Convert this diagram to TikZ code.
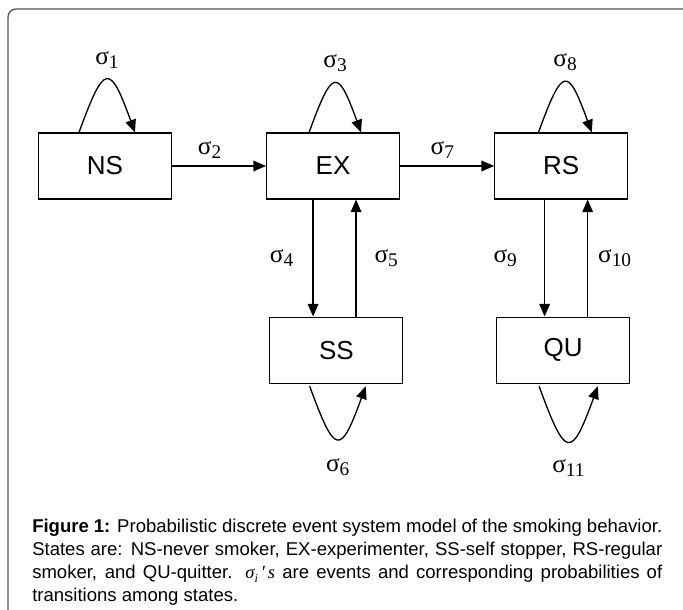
\documentclass[tikz,border=0pt]{standalone}
\usepackage{fontspec}
\setmainfont{Liberation Sans}
\newfontfamily\timesfont{Liberation Serif}
\usepackage{tikz}
\usetikzlibrary{positioning,arrows.meta}
\definecolor{framegray}{HTML}{555555}

\newcommand{\evt}[1]{{\timesfont\fontsize{19pt}{19pt}\selectfont σ\raisebox{-3pt}{\fontsize{14.5pt}{14.5pt}\selectfont #1}}}

\begin{document}
\begin{tikzpicture}[
x=0.75pt,
y=0.75pt,
node distance=87.75pt and 70.5pt,
state/.style={
draw=black,
line width=0.8pt,
minimum width=99.75pt,
minimum height=49.5pt,
font=\fontsize{19.5pt}{19.5pt}\selectfont
},
arrow/.style={
-{Triangle[length=9.5pt,width=8pt]},
line width=1pt
},
caption/.style={
text width=472.5pt,
align=justify,
inner sep=0pt,
font=\fontsize{13.9pt}{17.25pt}\selectfont
}
]

\clip (0,0) rectangle (683,610);

% outer frame, runs off the right and bottom edge
\draw[framegray, line width=1pt, rounded corners=6pt] (8,-20) |- (700,601);

\node[state] (ns) at (105,444) {NS};

\node[state, right=of ns] (ex) {EX};

\node[state, right=of ex] (rs) {RS};

\node[state, below=of ex, xshift=2.5pt] (ss) {SS};

\node[state, below=of rs, xshift=1.5pt] (qu) {QU};

% self loops
\draw[arrow] ([xshift=-19.5pt]ns.north)
to[out=70,in=110,looseness=3.4]
node[above=5pt] {\evt{1}}
([xshift=22.5pt]ns.north);

\draw[arrow] ([xshift=-18pt]ex.north)
to[out=70,in=110,looseness=3.4]
node[above=5pt] {\evt{3}}
([xshift=21pt]ex.north);

\draw[arrow] ([xshift=-17pt]rs.north)
to[out=70,in=110,looseness=3.4]
node[above=5pt] {\evt{8}}
([xshift=23pt]rs.north);

\draw[arrow] ([xshift=-20pt,yshift=-2pt]ss.south)
to[out=-70,in=-110,looseness=3.4]
node[below=11pt] {\evt{6}}
([xshift=22pt,yshift=-2pt]ss.south);

\draw[arrow] ([xshift=-18pt,yshift=-2pt]qu.south)
to[out=-70,in=-110,looseness=3.4]
node[below=10pt] {\evt{11}}
([xshift=26pt,yshift=-2pt]qu.south);

% transitions
\draw[arrow] (ns) -- node[pos=0.4, above=2pt] {\evt{2}} (ex);

\draw[arrow] (ex) -- node[pos=0.45, above=2pt] {\evt{7}} (rs);

\draw[arrow] ([xshift=-15pt]ex.south)
-- node[left=11pt] {\evt{4}}
([xshift=-15pt]ex.south |- ss.north);

\draw[arrow] ([xshift=17.25pt]ex.south |- ss.north)
-- node[right=10pt] {\evt{5}}
([xshift=17.25pt]ex.south);

\draw[arrow] ([xshift=-12.4pt]rs.south)
-- node[left=17pt] {\evt{9}}
([xshift=-12.4pt]rs.south |- qu.north);

\draw[arrow] ([xshift=19.9pt]rs.south |- qu.north)
-- node[right=4pt] {\evt{10}}
([xshift=19.9pt]rs.south);

\node[caption, anchor=north west] (cap) at (32,91)
{\textbf{Figure 1:} Probabilistic discrete event system model of the smoking behavior.\linebreak
States are: NS-never smoker, EX-experimenter, SS-self stopper, RS-regular\linebreak
smoker, and QU-quitter. {\timesfont\itshape σ\raisebox{-3pt}{\fontsize{9pt}{9pt}\selectfont i}\,'\,s} are events and corresponding probabilities of\linebreak
transitions among states.};

\end{tikzpicture}
\end{document}
